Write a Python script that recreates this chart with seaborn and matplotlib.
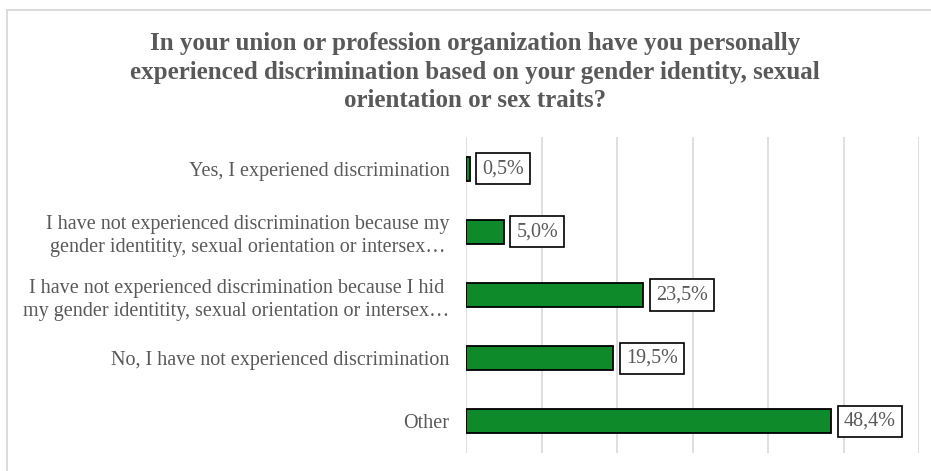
import matplotlib
matplotlib.use("Agg")
import matplotlib.pyplot as plt
from matplotlib.patches import Rectangle
import seaborn as sns
import pandas as pd

# data
categories = [
    "Yes, I experiened discrimination",
    "I have not experienced discrimination because my\ngender identitity, sexual orientation or intersex\u2026",
    "I have not experienced discrimination because I hid\nmy gender identitity, sexual orientation or intersex\u2026",
    "No, I have not experienced discrimination",
    "Other",
]
values = [0.5, 5.0, 23.5, 19.5, 48.4]
value_labels = ["0,5%", "5,0%", "23,5%", "19,5%", "48,4%"]

title = ("In your union or profession organization have you personally\n"
         "experienced discrimination based on your gender identity, sexual\n"
         "orientation or sex traits?")

df = pd.DataFrame({"cat": categories, "val": values})

sns.set_style("white")
plt.rcParams['font.family'] = ['Liberation Serif', 'DejaVu Serif']

GREEN = "#0f8a2a"
TEXT = "#595959"

fig = plt.figure(figsize=(9.31, 4.71), dpi=100)
ax = fig.add_axes([466 / 931, 1 - 453 / 471, (919 - 466) / 931, (453 - 137) / 471])

sns.barplot(data=df, x="val", y="cat", orient="h", color=GREEN, width=0.38,
            edgecolor="black", linewidth=1.3, saturation=1, ax=ax)

ax.set_xlim(0, 60)
ax.set_ylim(4.5, -0.5)
ax.set_xticks(range(0, 61, 10))
ax.set_xticklabels([])
ax.grid(axis="x", color="#d9d9d9", linewidth=1.2)
ax.set_axisbelow(True)
for s in ax.spines.values():
    s.set_visible(False)
ax.set_xlabel("")
ax.set_ylabel("")
ax.tick_params(axis="y", length=0, pad=12, labelsize=14.5, labelcolor=TEXT)
ax.tick_params(axis="x", length=0)
for lab in ax.get_yticklabels():
    lab.set_multialignment("center")
    lab.set_linespacing(1.3)

# value labels in boxes
for i, (v, t) in enumerate(zip(values, value_labels)):
    ax.annotate(t, xy=(v, i), xytext=(9, 0), textcoords="offset points",
                ha="left", va="center", fontsize=14.5, color=TEXT,
                bbox=dict(boxstyle="square,pad=0.3", fc="white", ec="black", lw=1.2))

fig.text(0.51, 1 - 72 / 471, title, ha="center", va="center", fontsize=18, fontweight="bold",
         color=TEXT, linespacing=1.3)

# chart frame
fig.add_artist(Rectangle((7 / 931, -0.2), 1.2, 1 - 10 / 471 + 0.2, transform=fig.transFigure,
                         fill=False, ec="#d9d9d9", lw=1.3))

fig.savefig("out.png", dpi=100)
